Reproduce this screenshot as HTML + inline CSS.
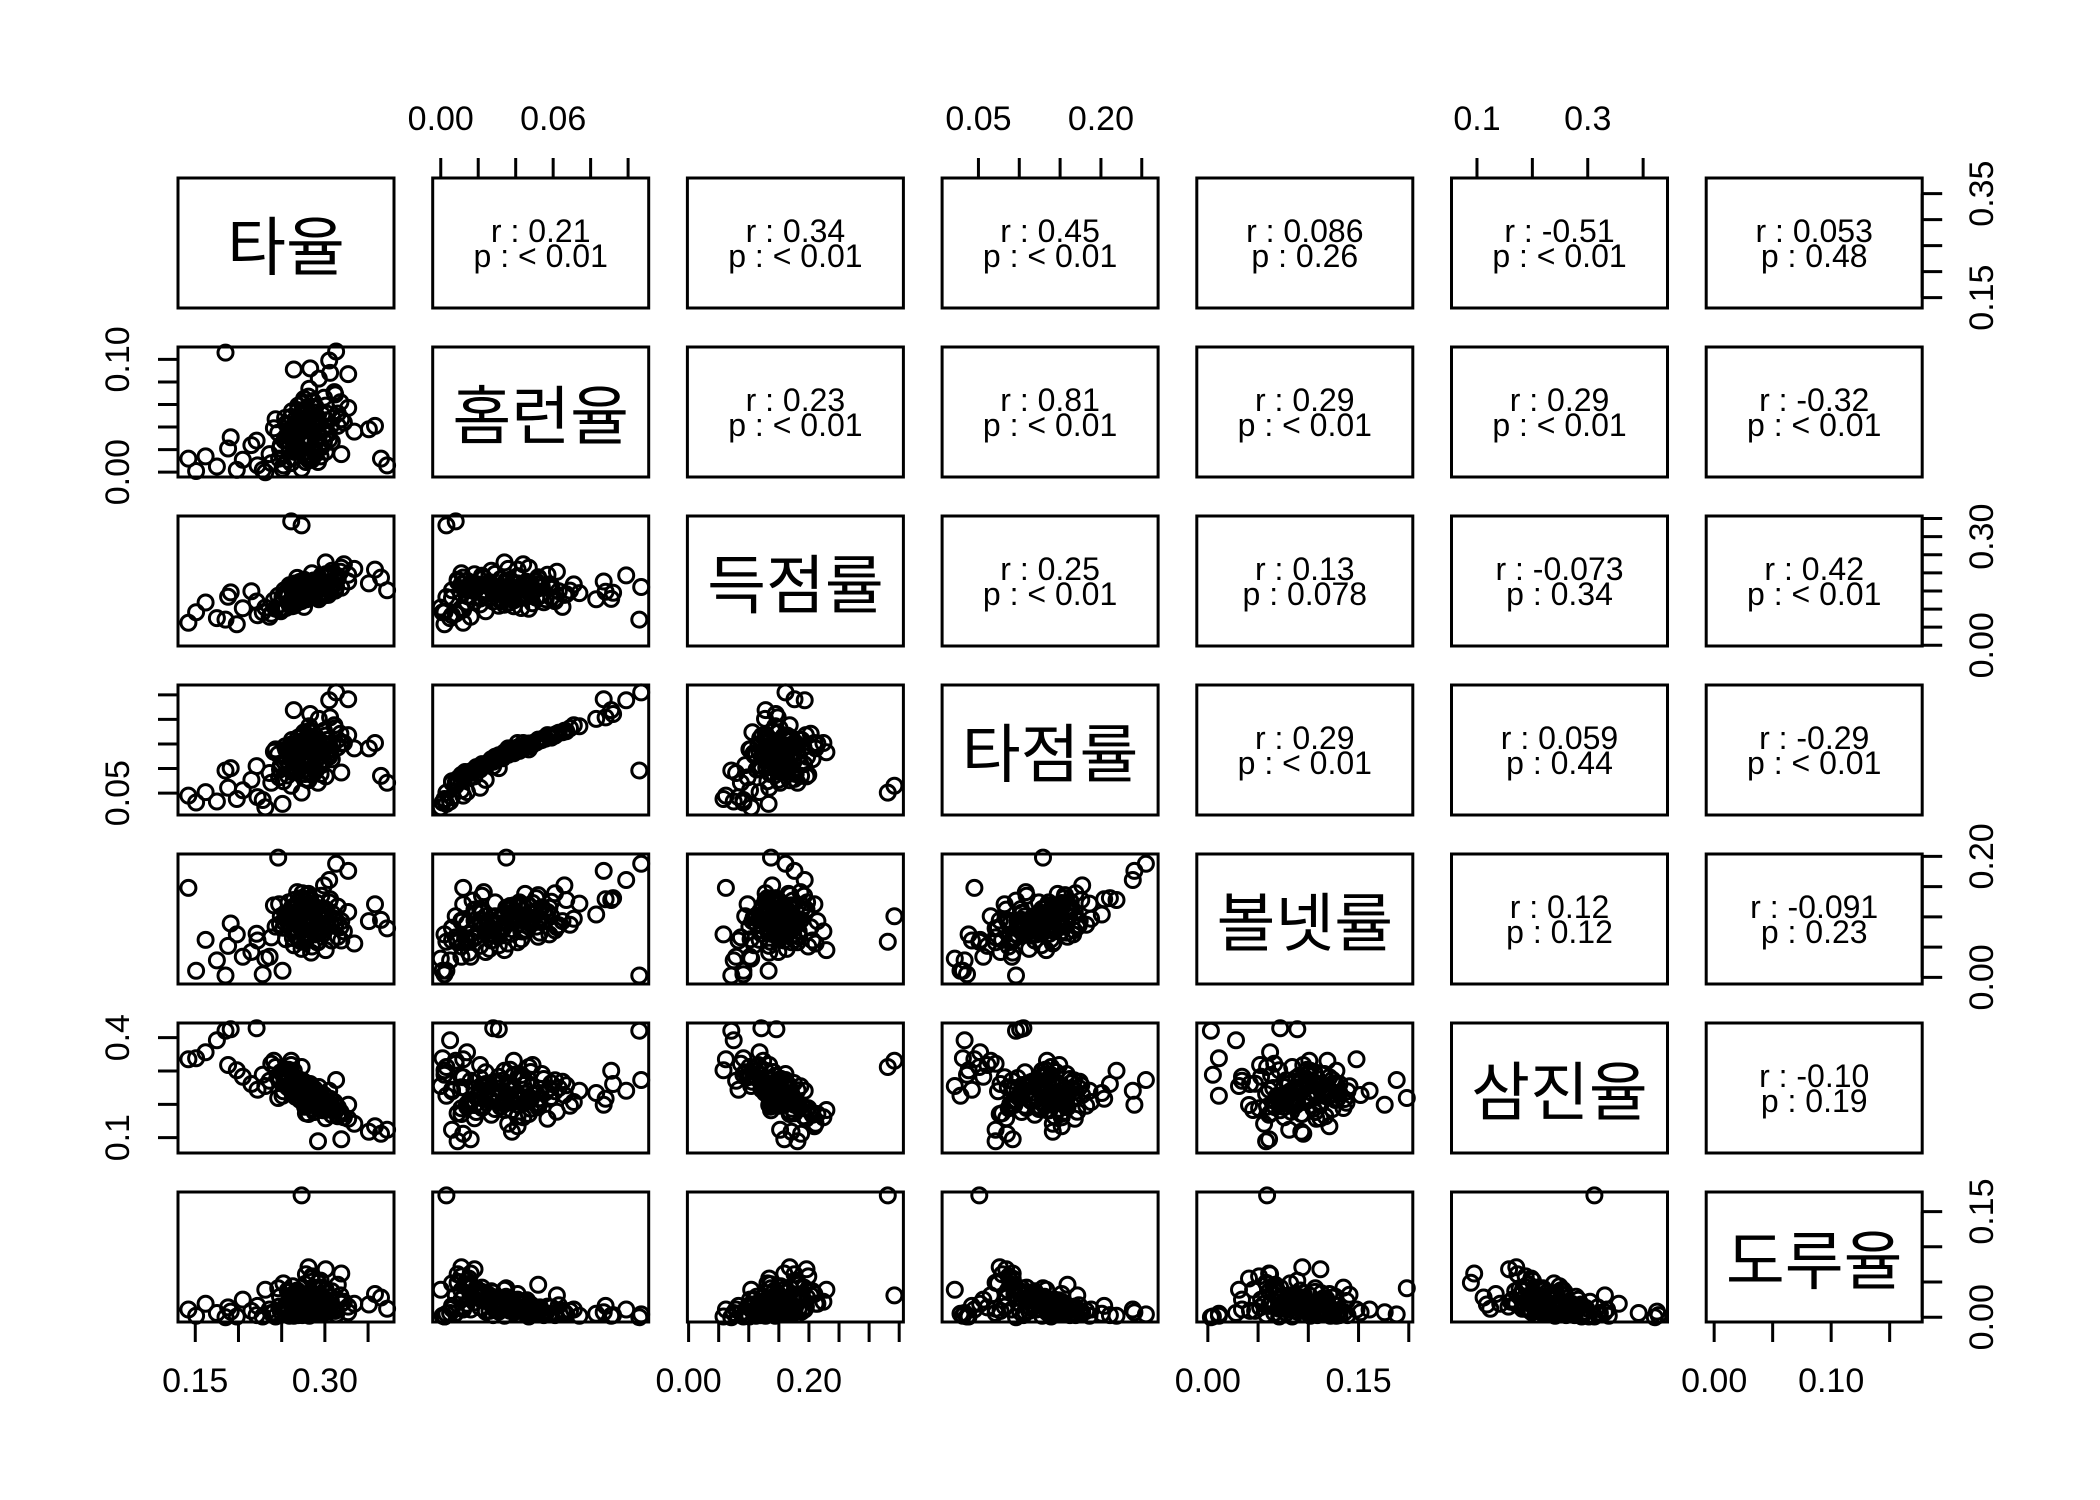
<!DOCTYPE html>
<html><head><meta charset="utf-8">
<style>
html,body{margin:0;padding:0;background:#fff;}
svg{display:block;}
text{font-family:"Liberation Sans","Noto Sans CJK KR",sans-serif;fill:#000;}
.diag{font-family:"Noto Sans CJK KR","NanumGothic",sans-serif;}
</style></head>
<body>
<svg id="chart" width="2100" height="1500" viewBox="0 0 2100 1500" xmlns="http://www.w3.org/2000/svg"></svg>
<script>
const varNames = ["타율","홈런율","득점률","타점률","볼넷률","삼진율","도루율"];
// padded axis domains per variable
const domLo = [0.13, -0.0043, -0.002, 0.0055, -0.011, 0.054, -0.0068];
const domHi = [0.38, 0.111, 0.357, 0.27, 0.204, 0.444, 0.1778];
const tickVals = [
  [0.15,0.20,0.25,0.30,0.35],
  [0.00,0.02,0.04,0.06,0.08,0.10],
  [0.00,0.05,0.10,0.15,0.20,0.25,0.30,0.35],
  [0.05,0.10,0.15,0.20,0.25],
  [0.00,0.05,0.10,0.15,0.20],
  [0.1,0.2,0.3,0.4],
  [0.00,0.05,0.10,0.15]
];
const xTickLabels = [["0.15",0.15,"0.30",0.30],["0.00",0,"0.06",0.06],["0.00",0,"0.20",0.20],["0.05",0.05,"0.20",0.20],["0.00",0,"0.15",0.15],["0.1",0.1,"0.3",0.3],["0.00",0,"0.10",0.10]];
const yTickLabels = [["0.15",0.15,"0.35",0.35],["0.00",0,"0.10",0.10],["0.00",0,"0.30",0.30],["0.05",0.05],["0.00",0,"0.20",0.20],["0.1",0.1,"0.4",0.4],["0.00",0,"0.15",0.15]];
// upper panel stats: [row, col, r, p]
const corrR = [
 [0,1,"0.21","< 0.01"],[0,2,"0.34","< 0.01"],[0,3,"0.45","< 0.01"],[0,4,"0.086","0.26"],[0,5,"-0.51","< 0.01"],[0,6,"0.053","0.48"],
 [1,2,"0.23","< 0.01"],[1,3,"0.81","< 0.01"],[1,4,"0.29","< 0.01"],[1,5,"0.29","< 0.01"],[1,6,"-0.32","< 0.01"],
 [2,3,"0.25","< 0.01"],[2,4,"0.13","0.078"],[2,5,"-0.073","0.34"],[2,6,"0.42","< 0.01"],
 [3,4,"0.29","< 0.01"],[3,5,"0.059","0.44"],[3,6,"-0.29","< 0.01"],
 [4,5,"0.12","0.12"],[4,6,"-0.091","0.23"],
 [5,6,"-0.10","0.19"]
];
// players: 타율, 홈런율, 득점률, 타점률, 볼넷률, 삼진율, 도루율
const players = [
[.281,.031,.142,.121,.071,.221,.012],[.302,.052,.188,.158,.112,.198,.008],[.265,.018,.121,.098,.094,.245,.021],
[.291,.041,.171,.142,.058,.231,.004],[.247,.012,.098,.082,.121,.281,.015],[.318,.062,.203,.171,.083,.178,.031],
[.273,.026,.163,.112,.047,.262,.009],[.259,.034,.112,.128,.102,.301,.002],[.287,.048,.147,.151,.088,.214,.018],
[.296,.022,.192,.109,.135,.189,.042],[.238,.008,.087,.071,.066,.322,.006],[.311,.071,.168,.188,.097,.207,.011],
[.276,.037,.181,.134,.118,.242,.026],[.284,.015,.134,.092,.041,.198,.055],[.269,.055,.119,.162,.109,.276,.003],
[.322,.044,.224,.152,.076,.161,.022],[.253,.028,.152,.114,.091,.266,.013],[.299,.066,.139,.177,.152,.228,.007],
[.278,.009,.176,.079,.062,.173,.061],[.262,.039,.108,.131,.099,.289,.016],[.305,.029,.197,.124,.124,.186,.028],
[.243,.047,.101,.139,.084,.312,.001],[.289,.058,.158,.166,.071,.217,.014],[.271,.021,.129,.102,.113,.238,.034],
[.334,.036,.211,.141,.056,.142,.019],[.257,.011,.143,.086,.092,.251,.038],[.293,.083,.127,.201,.104,.234,.005],
[.281,.045,.166,.147,.138,.205,.023],[.267,.033,.159,.121,.079,.271,.011],[.315,.052,.184,.159,.067,.191,.046],
[.249,.024,.094,.107,.101,.296,.008],[.286,.063,.149,.173,.086,.249,.017],[.274,.017,.173,.096,.127,.213,.029],
[.298,.038,.137,.137,.072,.182,.012],[.261,.049,.116,.149,.095,.318,.004],[.308,.027,.206,.119,.061,.169,.037],
[.279,.042,.154,.144,.116,.226,.021],[.252,.006,.131,.074,.082,.239,.048],[.327,.057,.195,.168,.108,.157,.015],
[.283,.092,.145,.211,.131,.261,.003],[.264,.031,.109,.127,.053,.283,.025],[.295,.014,.178,.089,.089,.201,.052],
[.241,.039,.124,.134,.119,.331,.007],[.277,.053,.161,.158,.074,.218,.013],[.302,.046,.139,.148,.096,.209,.024],
[.268,.023,.186,.108,.141,.254,.032],[.312,.069,.151,.182,.087,.196,.009],[.255,.043,.103,.139,.063,.288,.018],
[.288,.019,.169,.103,.107,.177,.041],[.273,.061,.122,.167,.078,.272,.006],[.291,.035,.157,.131,.115,.231,.027],
[.236,.016,.079,.091,.034,.271,.011],[.319,.047,.214,.151,.093,.171,.019],[.282,.074,.144,.186,.122,.241,.002],
[.266,.028,.162,.116,.069,.226,.035],[.297,.051,.177,.153,.084,.203,.014],[.258,.037,.118,.132,.099,.304,.022],
[.285,.011,.199,.087,.051,.188,.058],[.271,.044,.136,.141,.111,.258,.008],[.306,.088,.148,.204,.129,.217,.016],
[.248,.021,.113,.098,.088,.279,.029],[.293,.032,.183,.126,.076,.192,.012],[.279,.056,.127,.161,.102,.236,.005],
[.263,.013,.153,.093,.065,.249,.044],[.315,.041,.191,.143,.117,.164,.025],[.276,.065,.106,.174,.093,.268,.009],
[.289,.026,.174,.114,.081,.211,.031],[.254,.048,.141,.145,.106,.297,.013],[.301,.034,.229,.133,.045,.183,.039],
[.269,.059,.132,.163,.125,.263,.004],
[.142,.012,.062,.045,.148,.335,.011],[.151,.001,.091,.031,.011,.338,.002],[.162,.014,.118,.052,.062,.356,.019],
[.175,.005,.075,.033,.028,.392,.006],[.188,.021,.134,.061,.052,.318,.014],[.198,.002,.058,.038,.071,.302,.001],
[.205,.011,.102,.056,.034,.283,.025],[.215,.024,.149,.077,.042,.261,.009],[.222,.006,.083,.042,.061,.244,.016],
[.185,.106,.071,.096,.003,.421,.000],[.273,.003,.331,.051,.059,.312,.173],[.261,.008,.342,.065,.101,.331,.031],
[.372,.006,.152,.071,.081,.124,.012],[.365,.012,.187,.085,.095,.112,.028],[.351,.038,.171,.141,.093,.118,.018],
[.358,.041,.209,.152,.121,.134,.033],[.313,.107,.161,.255,.188,.273,.004],[.305,.099,.193,.239,.161,.241,.011],
[.264,.091,.128,.219,.128,.301,.002],[.327,.087,.176,.241,.176,.199,.007],[.246,.035,.137,.129,.198,.219,.041],
[.221,.028,.121,.105,.072,.428,.003],[.191,.031,.146,.101,.089,.425,.008],[.292,.009,.181,.071,.058,.089,.049],
[.319,.016,.159,.092,.061,.095,.062],[.301,.018,.196,.084,.112,.158,.068],[.281,.011,.168,.076,.094,.171,.071],
[.231,.000,.104,.021,.031,.255,.039],[.251,.003,.133,.028,.011,.226,.005],[.228,.002,.091,.036,.005,.289,.001],
[.284,.029,.143,.118,.087,.236,.017],[.271,.041,.158,.136,.102,.214,.011],[.293,.024,.132,.109,.076,.252,.023],
[.266,.047,.171,.148,.119,.223,.006],[.279,.018,.149,.094,.065,.198,.033],[.288,.053,.137,.157,.094,.246,.014],
[.261,.032,.162,.125,.081,.262,.021],[.297,.037,.145,.138,.112,.207,.009],[.274,.061,.128,.169,.139,.239,.003],
[.282,.026,.174,.113,.071,.219,.027],[.268,.044,.153,.141,.098,.277,.012],[.304,.034,.139,.129,.084,.201,.018],
[.259,.022,.166,.104,.107,.258,.036],[.291,.049,.151,.152,.123,.229,.008],[.277,.014,.136,.089,.059,.193,.047],
[.285,.058,.168,.164,.115,.248,.005],[.263,.039,.144,.133,.091,.286,.016],[.299,.027,.157,.117,.078,.211,.024],
[.272,.051,.131,.155,.131,.233,.010],[.287,.035,.179,.131,.089,.204,.029],[.256,.029,.148,.117,.101,.269,.015],
[.294,.043,.163,.143,.076,.216,.020],[.281,.067,.141,.176,.128,.257,.004],[.268,.019,.156,.099,.068,.221,.038],
[.309,.048,.172,.149,.105,.187,.013],[.275,.031,.127,.122,.096,.247,.022],[.262,.054,.161,.158,.116,.291,.007],
[.296,.023,.146,.107,.083,.196,.031],[.283,.039,.135,.137,.109,.228,.016],[.271,.046,.175,.146,.092,.264,.011],
[.289,.016,.152,.094,.072,.209,.042],[.258,.042,.138,.136,.124,.274,.009],[.301,.059,.164,.167,.101,.222,.014],
[.276,.025,.143,.111,.087,.241,.026],[.265,.036,.158,.128,.113,.255,.018],[.292,.045,.131,.145,.079,.232,.012],
[.279,.052,.169,.156,.136,.216,.007],[.286,.021,.147,.103,.095,.243,.034],[.269,.033,.122,.124,.104,.271,.019],
[.307,.041,.159,.139,.088,.199,.023]
];

const NS = "http://www.w3.org/2000/svg";
const svg = document.getElementById("chart");
const X0 = 178, PX = 254.7, W = 216, Y0 = 178, PY = 169, H = 130;
const n = varNames.length;
function px(col){ return X0 + PX*col; }
function py(row){ return Y0 + PY*row; }
function xScale(v, varIdx, col){ return px(col) + (v - domLo[varIdx])/(domHi[varIdx]-domLo[varIdx]) * W; }
function yScale(v, varIdx, row){ return py(row) + H - (v - domLo[varIdx])/(domHi[varIdx]-domLo[varIdx]) * H; }
function mk(tag, attrs){ const e = document.createElementNS(NS, tag); for (const k in attrs) e.setAttribute(k, attrs[k]); svg.appendChild(e); return e; }

for (let i=0;i<n;i++){
  for (let j=0;j<n;j++){
    const g = document.createElementNS(NS,"g");
    
    
    svg.appendChild(g);
    if (i>j){
      for (let k=0;k<players.length;k++){
        const c = document.createElementNS(NS,"circle");
        c.setAttribute("cx", xScale(players[k][j], j, j).toFixed(1));
        c.setAttribute("cy", yScale(players[k][i], i, i).toFixed(1));
        c.setAttribute("r", 7.5);
        c.setAttribute("fill", "none");
        c.setAttribute("stroke", "#000");
        c.setAttribute("stroke-width", 3);
        
        
        g.appendChild(c);
      }
    }
    const r = document.createElementNS(NS,"rect");
    r.setAttribute("x", px(j)); r.setAttribute("y", py(i)); r.setAttribute("width", W); r.setAttribute("height", H);
    r.setAttribute("fill","none"); r.setAttribute("stroke","#000"); r.setAttribute("stroke-width",3);
    
    
    g.appendChild(r);
    if (i===j){
      const t = document.createElementNS(NS,"text");
      t.setAttribute("x", px(j)+W/2); t.setAttribute("y", py(i)+H/2);
      t.setAttribute("text-anchor","middle"); t.setAttribute("dominant-baseline","central");
      t.setAttribute("font-size", 64); t.setAttribute("class","diag");
      t.textContent = varNames[i];
      
      
      g.appendChild(t);
    }
  }
}
// correlation text
for (const c of corrR){
  const [i,j,rv,pv] = c;
  const cx = px(j)+W/2;
  const t1 = mk("text",{x:cx, y:py(i)+64, "text-anchor":"middle", "font-size":32});
  t1.textContent = "r : " + rv;
  
  
  const t2 = mk("text",{x:cx, y:py(i)+89, "text-anchor":"middle", "font-size":32});
  t2.textContent = "p : " + pv;
  
  
}
// axes
for (let j=0;j<n;j++){
  const top = (j%2===1);
  const yEdge = top ? py(0) : py(n-1)+H;
  const dir = top ? -1 : 1;
  const tv = tickVals[j];
  const xa = xScale(tv[0], j, j), xb = xScale(tv[tv.length-1], j, j);
  const ax = mk("line",{x1:xa,y1:yEdge,x2:xb,y2:yEdge,stroke:"#000","stroke-width":3});
  
  
  for (const v of tv){
    const x = xScale(v, j, j);
    const l = mk("line",{x1:x,y1:yEdge,x2:x,y2:yEdge+dir*20,stroke:"#000","stroke-width":3});
    
    
  }
  const lb = xTickLabels[j];
  for (let k=0;k<lb.length;k+=2){
    const t = mk("text",{x:xScale(lb[k+1], j, j), y:yEdge+dir*59, "text-anchor":"middle","dominant-baseline":"central","font-size":34});
    t.textContent = lb[k];
    
    
  }
}
for (let i=0;i<n;i++){
  const left = (i%2===1);
  const xEdge = left ? px(0) : px(n-1)+W;
  const dir = left ? -1 : 1;
  const tv = tickVals[i];
  const ya = yScale(tv[0], i, i), yb = yScale(tv[tv.length-1], i, i);
  const ax = mk("line",{x1:xEdge,y1:ya,x2:xEdge,y2:yb,stroke:"#000","stroke-width":3});
  
  
  for (const v of tv){
    const y = yScale(v, i, i);
    const l = mk("line",{x1:xEdge,y1:y,x2:xEdge+dir*20,y2:y,stroke:"#000","stroke-width":3});
    
    
  }
  const lb = yTickLabels[i];
  for (let k=0;k<lb.length;k+=2){
    const y = yScale(lb[k+1], i, i), x = xEdge+dir*60;
    const t = mk("text",{x:x, y:y, "text-anchor":"middle","dominant-baseline":"central","font-size":34, transform:"rotate(-90 "+x+" "+y+")"});
    t.textContent = lb[k];
    
    
  }
}
</script>
</body></html>
